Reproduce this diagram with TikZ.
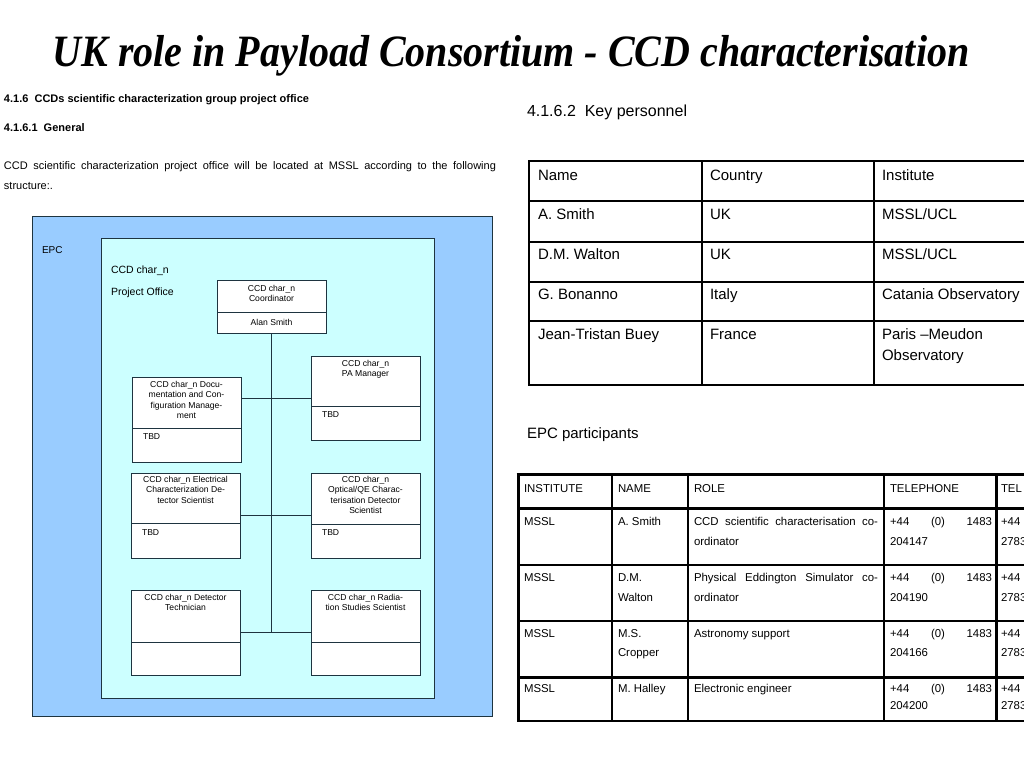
\documentclass[tikz,border=0pt]{standalone}
\usepackage{fontspec}
\setmainfont{Liberation Sans}
\newfontfamily\titlefont{Liberation Serif}
\newcommand\fsz[2]{\fontsize{#1}{#2}\selectfont}
\definecolor{epcblue}{HTML}{99CCFF}
\definecolor{pofill}{HTML}{CCFFFF}
\definecolor{boxline}{HTML}{1E3440}
\begin{document}
\begin{tikzpicture}[x=1pt,y=-1pt,
  every node/.style={inner sep=0pt, outer sep=0pt},
  orgbox/.style={draw=boxline, line width=1pt, fill=white, minimum width=109pt, minimum height=85pt},
  btxt/.style={font=\fsz{8.6}{10.5}, align=center, anchor=north},
  tbd/.style={font=\fsz{8.6}{10.5}, anchor=west},
  link/.style={draw=boxline, line width=1pt},
  doctxt/.style={font=\fsz{11}{13}, anchor=west},
  ktxt/.style={font=\fsz{15}{21}, anchor=base west, align=left},
  kline/.style={line width=1.8pt, line cap=rect},
  ptxt/.style={font=\fsz{11.4}{13}, anchor=base west},
  pthin/.style={line width=1.2pt},
  pthick/.style={line width=3pt}
]
\useasboundingbox (0,0) rectangle (1024,768);
\fill[white] (0,0) rectangle (1024,768);

% title
\node[font=\titlefont\bfseries\itshape\fsz{40}{48}] (title) at (511,56) {\scalebox{1}[1.12]{UK role in Payload Consortium - CCD characterisation}};

% document text (left)
\node[doctxt, font=\fsz{11}{13}\bfseries] (h1) at (4,100) {4.1.6\ \ CCDs scientific characterization group project office};
\node[doctxt, font=\fsz{11}{13}\bfseries] (h2) at (4,128) {4.1.6.1\ \ General};
\node[doctxt] (p1) at (4,167) {\makebox[492pt][s]{CCD scientific characterization project office will be located at MSSL according to the following}};
\node[doctxt] (p2) at (4,186) {structure:.};

% org chart
\node[draw=boxline, line width=1pt, fill=epcblue, minimum width=460pt, minimum height=500pt] (epc) at (262,466) {};
\node[draw=boxline, line width=1pt, fill=pofill, minimum width=333pt, minimum height=460pt] (po) at (267.5,468) {};
\node[font=\fsz{10}{12}, anchor=west] (epcl) at (42,250) {EPC};
\node[font=\fsz{10.5}{12}, anchor=west] (pol1) at (111,271) {CCD char\_n};
\node[font=\fsz{10.5}{12}, anchor=west] (pol2) at (111,293) {Project Office};

\node[orgbox, minimum height=53pt] (coord) at (271.5,306.5) {};
\node[orgbox, minimum height=84pt] (pa) at (365.5,398) {};
\node[orgbox, minimum height=85pt] (doc) at (186.5,419.5) {};
\node[orgbox] (elec) at (185.5,515.5) {};
\node[orgbox] (opt) at (365.5,515.5) {};
\node[orgbox] (tech) at (185.5,632.5) {};
\node[orgbox] (rad) at (365.5,632.5) {};

% dividers
\draw[link] (coord.west |- 0,312) -- (coord.east |- 0,312);
\draw[link] (pa.west |- 0,406) -- (pa.east |- 0,406);
\draw[link] (doc.west |- 0,428) -- (doc.east |- 0,428);
\draw[link] (elec.west |- 0,523) -- (elec.east |- 0,523);
\draw[link] (opt.west |- 0,524) -- (opt.east |- 0,524);
\draw[link] (tech.west |- 0,642) -- (tech.east |- 0,642);
\draw[link] (rad.west |- 0,642) -- (rad.east |- 0,642);

% connectors
\coordinate (trunkend) at (271.5,632.5);
\draw[link] (coord.south) -- (trunkend);
\draw[link] (doc.east |- pa.west) -- (pa.west);
\draw[link] (elec.east) -- (opt.west);
\draw[link] (tech.east) -- (rad.west);

% box texts
\node[btxt] (coordT) at (271.5,285) {CCD char\_n\\Coordinator};
\node[font=\fsz{8.6}{10.5}] (coordN) at (271.5,322) {Alan Smith};
\node[btxt] (paT) at (365.5,360) {CCD char\_n\\PA Manager};
\node[tbd] (paB) at (322,415) {TBD};
\node[btxt] (docT) at (186.5,381) {CCD char\_n Docu-\\mentation and Con-\\figuration Manage-\\ment};
\node[tbd] (docB) at (143,437) {TBD};
\node[btxt] (elecT) at (185.5,476) {CCD char\_n Electrical\\Characterization De-\\tector Scientist};
\node[tbd] (elecB) at (142,533) {TBD};
\node[btxt] (optT) at (365.5,476) {CCD char\_n\\Optical/QE Charac-\\terisation Detector\\Scientist};
\node[tbd] (optB) at (322,533) {TBD};
\node[btxt] (techT) at (185.5,594) {CCD char\_n Detector\\Technician};
\node[btxt] (radT) at (365.5,594) {CCD char\_n Radia-\\tion Studies Scientist};

% key personnel
\node[font=\fsz{16}{19}, anchor=west] (kp) at (527,112) {4.1.6.2\ \ Key personnel};
\foreach \yy in {161,201,242,282,321,385} \draw[kline] (529,\yy) -- (1030,\yy);
\foreach \xx in {529,702,874} \draw[kline] (\xx,161) -- (\xx,385);
\node[ktxt] (k11) at (538,180) {Name};
\node[ktxt] (k12) at (710,180) {Country};
\node[ktxt] (k13) at (882,180) {Institute};
\node[ktxt] (k21) at (538,219) {A. Smith};
\node[ktxt] (k22) at (710,219) {UK};
\node[ktxt] (k23) at (882,219) {MSSL/UCL};
\node[ktxt] (k31) at (538,259) {D.M. Walton};
\node[ktxt] (k32) at (710,259) {UK};
\node[ktxt] (k33) at (882,259) {MSSL/UCL};
\node[ktxt] (k41) at (538,299) {G. Bonanno};
\node[ktxt] (k42) at (710,299) {Italy};
\node[ktxt] (k43) at (882,299) {Catania Observatory};
\node[ktxt] (k51) at (538,339) {Jean-Tristan Buey};
\node[ktxt] (k52) at (710,339) {France};
\node[ktxt] (k53) at (882,339) {Paris --Meudon};
\node[ktxt] (k54) at (882,360) {Observatory};

% EPC participants
\node[font=\fsz{15}{18}, anchor=west] (epcp) at (527,435) {EPC participants};
\draw[pthick] (516.5,474) -- (1030,474);
\draw[pthick] (518,508) -- (1030,508);
\draw[pthin] (518,565) -- (1030,565);
\draw[pthin] (518,621) -- (1030,621);
\draw[pthick] (518,677) -- (1030,677);
\draw[pthin] (518,721) -- (1030,721);
\draw[pthick] (518,474) -- (518,722);
\foreach \xx in {612,688,884} \draw[pthin] (\xx,474) -- (\xx,721);
\draw[pthick] (996,474) -- (996,722);

\node[ptxt] (ph1) at (524,492) {INSTITUTE};
\node[ptxt] (ph2) at (618,492) {NAME};
\node[ptxt] (ph3) at (694,492) {ROLE};
\node[ptxt] (ph4) at (890,492) {TELEPHONE};
\node[ptxt] (ph5) at (1001,492) {TEL};

\node[ptxt] (r1a) at (524,525) {MSSL};
\node[ptxt] (r1b) at (618,525) {A. Smith};
\node[ptxt] (r1c) at (694,525) {\makebox[184pt][s]{CCD scientific characterisation co-}};
\node[ptxt] (r1d) at (694,545) {ordinator};
\node[ptxt] (r1e) at (890,525) {\makebox[102pt][s]{+44 (0) 1483}};
\node[ptxt] (r1f) at (890,545) {204147};
\node[ptxt] (r1g) at (1001,525) {+44};
\node[ptxt] (r1h) at (1001,545) {2783};

\node[ptxt] (r2a) at (524,581) {MSSL};
\node[ptxt] (r2b) at (618,581) {D.M.};
\node[ptxt] (r2b2) at (618,601) {Walton};
\node[ptxt] (r2c) at (694,581) {\makebox[184pt][s]{Physical Eddington Simulator co-}};
\node[ptxt] (r2d) at (694,601) {ordinator};
\node[ptxt] (r2e) at (890,581) {\makebox[102pt][s]{+44 (0) 1483}};
\node[ptxt] (r2f) at (890,601) {204190};
\node[ptxt] (r2g) at (1001,581) {+44};
\node[ptxt] (r2h) at (1001,601) {2783};

\node[ptxt] (r3a) at (524,637) {MSSL};
\node[ptxt] (r3b) at (618,637) {M.S.};
\node[ptxt] (r3b2) at (618,656) {Cropper};
\node[ptxt] (r3c) at (694,637) {Astronomy support};
\node[ptxt] (r3e) at (890,637) {\makebox[102pt][s]{+44 (0) 1483}};
\node[ptxt] (r3f) at (890,656) {204166};
\node[ptxt] (r3g) at (1001,637) {+44};
\node[ptxt] (r3h) at (1001,656) {2783};

\node[ptxt] (r4a) at (524,692) {MSSL};
\node[ptxt] (r4b) at (618,692) {M. Halley};
\node[ptxt] (r4c) at (694,692) {Electronic engineer};
\node[ptxt] (r4e) at (890,692) {\makebox[102pt][s]{+44 (0) 1483}};
\node[ptxt] (r4f) at (890,709) {204200};
\node[ptxt] (r4g) at (1001,692) {+44};
\node[ptxt] (r4h) at (1001,709) {2783};
\end{tikzpicture}
\end{document}
